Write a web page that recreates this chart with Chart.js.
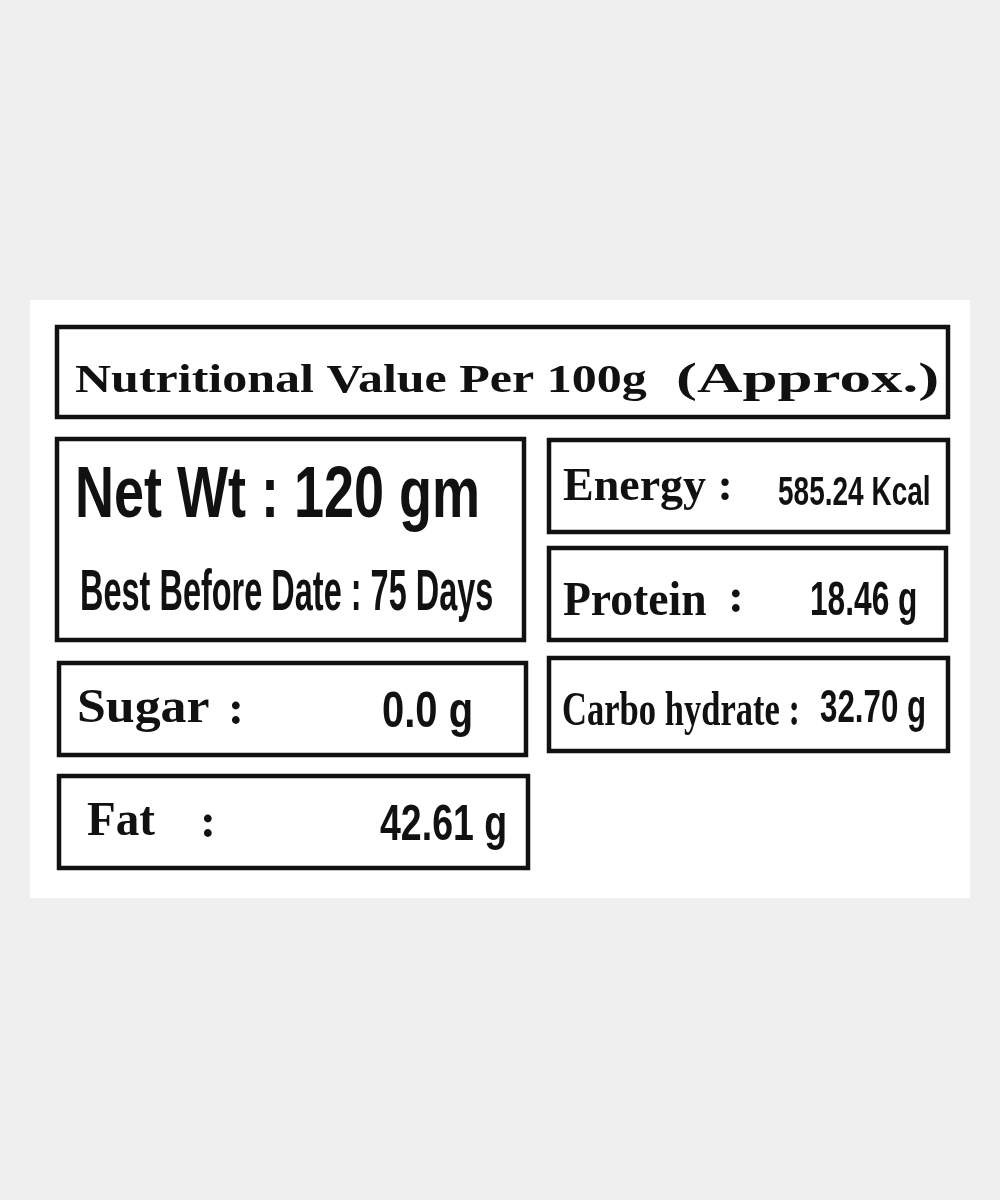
<!DOCTYPE html>
<html><head><meta charset="utf-8">
<script src="https://cdn.jsdelivr.net/npm/chart.js@4/dist/chart.umd.min.js"></script>
<style>html,body{margin:0;padding:0;background:#efefef}#wrap{width:1000px;height:1200px}</style>
</head><body><div id="wrap"><canvas id="c"></canvas></div>
<script>
const title = ["Nutritional Value Per 100g", "(Approx.)"];
const netWeight = "Net Wt : 120 gm";
const bestBefore = "Best Before Date : 75 Days";
const nutrientNames = ["Energy", "Protein", "Carbo hydrate", "Sugar", "Fat"];
const nutrientValues = ["585.24 Kcal", "18.46 g", "32.70 g", "0.0 g", "42.61 g"];

// layout boxes in page units [x1,y1,x2,y2]
const boxes = [[57,327,948,417],[57,439,524,640],[549,440,948,532],[549,548,946,640],[549,658,948,751],[59,663,526,755],[59,776,528,868]];

const labelPlugin = {
  id: 'label',
  beforeDraw(chart){
    const {ctx, scales:{x,y}} = chart;
    const X = v => x.getPixelForValue(v), Y = v => y.getPixelForValue(v);
    ctx.save();
    ctx.fillStyle = '#efefef'; ctx.fillRect(0,0,chart.width,chart.height);
    ctx.fillStyle = '#fff'; ctx.fillRect(X(30),Y(300),X(970)-X(30),Y(898)-Y(300));
    ctx.strokeStyle = '#111'; ctx.lineWidth = 4.5;
    boxes.forEach(b => ctx.strokeRect(X(b[0]),Y(b[1]),X(b[2])-X(b[0]),Y(b[3])-Y(b[1])));
    ctx.fillStyle = '#111'; ctx.textBaseline = 'alphabetic';
    const txt = (s, px, py, font, sx) => {
      ctx.save(); ctx.font = font; ctx.translate(X(px), Y(py)); ctx.scale(sx||1, 1);
      ctx.fillText(s, 0, 0); ctx.restore();
    };
    const serif = 'bold {s}px "Liberation Serif", "DejaVu Serif", serif';
    const cond = 'bold {s}px "Liberation Sans Narrow", "Liberation Sans", Arial, sans-serif';
    const f = (t,s) => t.replace('{s}', s);
    txt(title[0], 75, 392, f(serif,40), 1.25);
    txt(title[1], 676, 392, f(serif,42), 1.5);
    txt(netWeight, 75, 517, f(cond,72), 0.75);
    txt(bestBefore, 80, 610, f(cond,58), 0.56);
    txt(nutrientNames[0] + " :", 563, 500, f(serif,46), 1.0);
    txt(nutrientValues[0], 778, 505, f(cond,40), 0.7);
    txt(nutrientNames[1], 563, 615, f(serif,48), 0.95);
    txt(":", 728, 612, f(serif,48), 1);
    txt(nutrientValues[1], 810, 615, f(cond,48), 0.66);
    txt(nutrientNames[2] + " :", 562, 725, f(serif,48), 0.72);
    txt(nutrientValues[2], 820, 722, f(cond,46), 0.68);
    txt(nutrientNames[3], 77, 722, f(serif,48), 1.08);
    txt(":", 228, 724, f(serif,48), 1);
    txt(nutrientValues[3], 382, 727, f(cond,50), 0.8);
    txt(nutrientNames[4], 87, 835, f(serif,48), 0.98);
    txt(":", 200, 837, f(serif,48), 1);
    txt(nutrientValues[4], 380, 840, f(cond,50), 0.75);
    ctx.restore();
  }
};

new Chart(document.getElementById('c'), {
  type: 'scatter',
  data: { datasets: [{ data: [], pointRadius: 0 }] },
  options: {
    responsive: true, maintainAspectRatio: false, animation: false, devicePixelRatio: 1,
    layout: { padding: 0 },
    plugins: { legend: { display: false }, tooltip: { enabled: false } },
    scales: {
      x: { type: 'linear', min: 0, max: 1000, display: false },
      y: { type: 'linear', min: 0, max: 1200, reverse: true, display: false }
    }
  },
  plugins: [labelPlugin]
});
</script></body></html>
